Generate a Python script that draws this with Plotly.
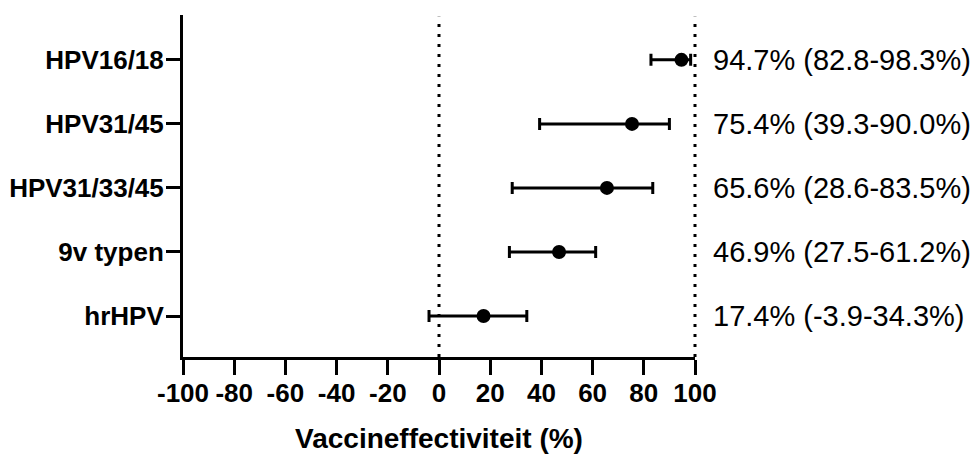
import plotly.graph_objects as go

categories = ["HPV16/18", "HPV31/45", "HPV31/33/45", "9v typen", "hrHPV"]
estimate = [94.7, 75.4, 65.6, 46.9, 17.4]
ci_low = [82.8, 39.3, 28.6, 27.5, -3.9]
ci_high = [98.3, 90.0, 83.5, 61.2, 34.3]
x_ticks = [-100, -80, -60, -40, -20, 0, 20, 40, 60, 80, 100]
ref_lines = [0, 100]
x_range = [-100, 100]

ypos = list(range(len(categories) - 1, -1, -1))
err_plus = [h - e for h, e in zip(ci_high, estimate)]
err_minus = [e - l for e, l in zip(estimate, ci_low)]

FONT = "Liberation Sans, Arial"

fig = go.Figure()
fig.add_trace(go.Scatter(
    x=estimate, y=ypos, mode="markers",
    marker=dict(color="black", size=14),
    error_x=dict(type="data", array=err_plus, arrayminus=err_minus,
                 color="black", thickness=3, width=6),
    cliponaxis=False, showlegend=False,
))

for xv in ref_lines:
    xp = (xv - x_range[0]) / (x_range[1] - x_range[0])
    fig.add_shape(type="line", xref="paper", yref="paper", x0=xp, x1=xp, y0=0, y1=0.995,
                  line=dict(color="black", width=3, dash="3px,7px"), layer="below")

for e, l, h, y in zip(estimate, ci_low, ci_high, ypos):
    fig.add_annotation(x=100, y=y, xref="x", yref="y", xanchor="left", yanchor="middle",
                       xshift=17, showarrow=False, borderpad=0,
                       text=f"{e:.1f}% ({l:.1f}-{h:.1f}%)",
                       font=dict(family=FONT, size=29, color="black"))

fig.update_layout(
    width=970, height=454,
    margin=dict(l=183, r=275, t=15, b=97),
    plot_bgcolor="white", paper_bgcolor="white",
    font=dict(family=FONT, color="black"),
)
fig.update_xaxes(
    range=x_range, tickvals=x_ticks, ticktext=[str(v) for v in x_ticks],
    showline=True, linecolor="black", linewidth=3, mirror=False,
    ticks="outside", ticklen=15, tickwidth=3, tickcolor="black",
    showgrid=False, zeroline=False, automargin=False, ticklabelstandoff=-4,
    tickfont=dict(size=26, family=FONT, weight="bold"),
    title=dict(text="<b>Vaccineffectiviteit (%)</b>", standoff=30,
               font=dict(size=28, family=FONT)),
)
fig.update_yaxes(
    range=[-0.64, 4.70], tickvals=ypos, ticktext=categories,
    showline=True, linecolor="black", linewidth=3,
    ticks="outside", ticklen=14, tickwidth=3, tickcolor="black",
    showgrid=False, zeroline=False, automargin=False, ticklabelstandoff=-3,
    tickfont=dict(size=26, family=FONT, weight="bold"),
)

fig.write_html("out.html")
